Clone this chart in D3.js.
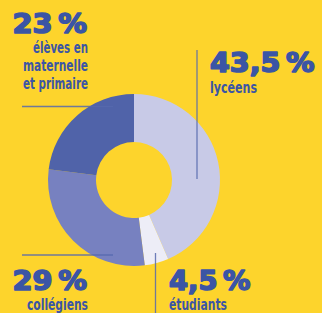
<!DOCTYPE html>
<html>
<head>
<meta charset="utf-8">
<script src="https://cdn.jsdelivr.net/npm/d3@7"></script>
<style>
  html, body { margin: 0; padding: 0; background: #FDD42C; }
  svg { display: block; }
</style>
</head>
<body>
<svg id="chart" width="322" height="313"></svg>
<script>
// ---- data ----
const categories = ["lycéens", "étudiants", "collégiens", "élèves en maternelle et primaire"];
const values = [43.5, 4.5, 29, 23];
const valueLabels = ["43,5\u202F%", "4,5\u202F%", "29\u202F%", "23\u202F%"];
const labelLines = [["lycéens"], ["étudiants"], ["collégiens"], ["élèves en", "maternelle", "et primaire"]];
const colors = ["#C8CAE7", "#EDEDF7", "#7781C0", "#5063A9"];

// ---- layout (styles / positions) ----
const W = 322, H = 313;
const cx = 134, cy = 180, rOuter = 86, rInner = 38;
const textColor = "#3B55A5";
const lineColor = "#5668AE";

const layout = [
  { anchor: "start", numX: 210, numY: 72, numW: 106, labX: 210, labY: 92.5, labW: [47],
    line: [[197, 50], [197, 179]] },
  { anchor: "start", numX: 169, numY: 289.5, numW: 83, labX: 169, labY: 310, labW: [58],
    line: [[155.5, 253], [155.5, 313]] },
  { anchor: "end", numX: 87, numY: 289.5, numW: 76, labX: 88, labY: 310, labW: [61],
    line: [[22, 255], [113, 255]] },
  { anchor: "end", numX: 87, numY: 32.5, numW: 76, labX: 88, labY: 53, labW: [55, 65, 65],
    line: [[22, 106.5], [113, 106.5]] }
];

const svg = d3.select("#chart");
svg.append("rect").attr("width", W).attr("height", H).attr("fill", "#FDD42C");

const pie = d3.pie().sort(null).value(d => d)(values);
const arc = d3.arc().innerRadius(rInner).outerRadius(rOuter);

const g = svg.append("g").attr("transform", `translate(${cx},${cy})`);
g.selectAll("path").data(pie).join("path")
  .attr("d", arc)
  .attr("fill", (d, i) => colors[i]);

// leader lines
svg.append("g").selectAll("line").data(layout).join("line")
  .attr("x1", d => d.line[0][0]).attr("y1", d => d.line[0][1])
  .attr("x2", d => d.line[1][0]).attr("y2", d => d.line[1][1])
  .attr("stroke", lineColor).attr("stroke-width", 1.3).attr("stroke-opacity", 0.85);

// numbers and labels
const txtG = svg.append("g");
categories.forEach((c, i) => {
  const L = layout[i];
  txtG.append("text")
    .attr("x", L.numX).attr("y", L.numY)
    .attr("text-anchor", L.anchor)
    .attr("font-family", "DejaVu Sans")
    .attr("font-weight", 700)
    .attr("font-size", 26)
    .attr("fill", textColor)
    .attr("stroke", textColor)
    .attr("stroke-width", 1.6)
    .attr("stroke-linejoin", "round")
    .attr("textLength", L.numW - 1.5)
    .attr("lengthAdjust", "spacingAndGlyphs")
    .text(valueLabels[i]);
  labelLines[i].forEach((t, j) => {
    txtG.append("text")
      .attr("x", L.labX).attr("y", L.labY + j * 18)
      .attr("text-anchor", L.anchor)
      .attr("font-family", "'Liberation Sans Narrow', 'DejaVu Sans Condensed', sans-serif")
      .attr("font-weight", 700)
      .attr("font-size", 15.5)
      .attr("fill", textColor)
      .attr("textLength", L.labW[j])
      .attr("lengthAdjust", "spacingAndGlyphs")
      .text(t);
  });
});
</script>
</body>
</html>
